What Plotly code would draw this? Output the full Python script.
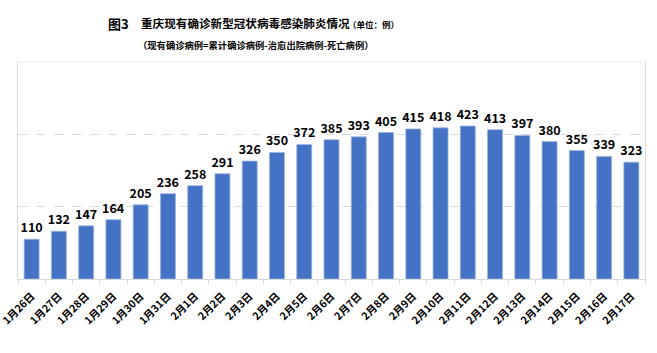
import plotly.graph_objects as go

categories = ["1月26日", "1月27日", "1月28日", "1月29日", "1月30日", "1月31日",
              "2月1日", "2月2日", "2月3日", "2月4日", "2月5日", "2月6日", "2月7日",
              "2月8日", "2月9日", "2月10日", "2月11日", "2月12日", "2月13日",
              "2月14日", "2月15日", "2月16日", "2月17日"]
values = [110, 132, 147, 164, 205, 236, 258, 291, 326, 350, 372, 385, 393,
          405, 415, 418, 423, 413, 397, 380, 355, 339, 323]

title_fig = "图3"
title_main = "重庆现有确诊新型冠状病毒感染肺炎情况"
title_unit = "（单位：例）"
subtitle = "（现有确诊病例=累计确诊病例-治愈出院病例-死亡病例）"

FONT = "Noto Sans CJK SC"
W, H = 657, 353
L, R, T, B = 18, 12, 62, 74
pw, ph = W - L - R, H - T - B

def px(x):
    return (x - L) / pw

def py(y):
    return (H - B - y) / ph

fig = go.Figure()
fig.add_trace(go.Bar(
    x=categories, y=values,
    marker=dict(color="#4472C4", line=dict(color="#9DB5E0", width=0.8)),
    text=[f"<b>{v}</b>" for v in values],
    textposition="outside",
    constraintext="none",
    textfont=dict(family=FONT, size=12.5, color="#000000"),
    cliponaxis=False,
    hoverinfo="x+y",
))

anns = [
    dict(text=f"<b>{title_fig}</b>", x=px(106), y=py(23), size=13),
    dict(text=f"<b>{title_main}</b>", x=px(139), y=py(23), size=11.6),
    dict(text=f"<b>{title_unit}</b>", x=px(346), y=py(24), size=8.5),
    dict(text=f"<b>{subtitle}</b>", x=px(136), y=py(45), size=9.3),
]
annotations = [dict(text=a["text"], x=a["x"], y=a["y"], xref="paper", yref="paper",
                    xanchor="left", yanchor="middle", showarrow=False,
                    font=dict(family=FONT, size=a["size"], color="#000000"))
               for a in anns]

fig.update_layout(
    width=W, height=H,
    margin=dict(l=L, r=R, t=T, b=B, pad=0, autoexpand=False),
    paper_bgcolor="white", plot_bgcolor="white",
    bargap=0.45,
    showlegend=False,
    annotations=annotations,
    font=dict(family=FONT),
    xaxis=dict(
        tickangle=-45, automargin=False,
        tickfont=dict(family=FONT, size=10.5, color="#000000"),
        tickprefix="<b>", ticksuffix="</b>",
        ticklabelstandoff=6,
        showline=True, linecolor="#D9D9D9", linewidth=1, mirror=False,
        ticks="outside", ticklen=4, tickcolor="#D9D9D9", tickson="boundaries",
        showgrid=False,
    ),
    yaxis=dict(
        range=[0, 600], dtick=200, automargin=False,
        showticklabels=False,
        showgrid=True, gridcolor="#D9D9D9", griddash="dash", gridwidth=1,
        showline=True, linecolor="#D9D9D9", linewidth=1, mirror=True,
        zeroline=False, ticks="",
    ),
)
fig.add_shape(type="line", xref="paper", yref="paper", x0=0, x1=1, y0=1, y1=1,
              line=dict(color="#EDEDED", width=1))

fig.write_html("out.html")
